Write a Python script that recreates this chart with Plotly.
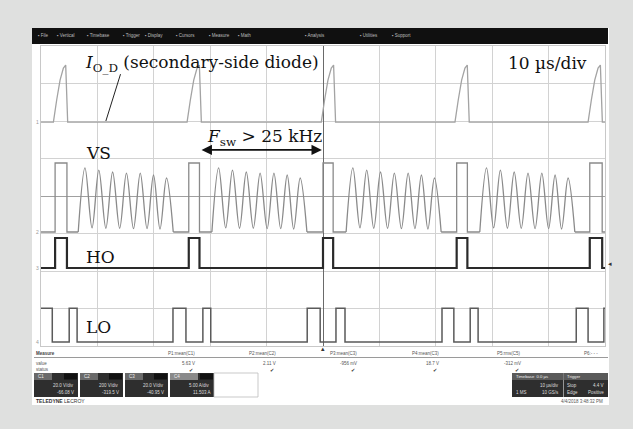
import plotly.graph_objects as go

# ---------------- data (time in µs, level in screen divisions) ----------------
HO_RISE = [-47.5, -23.8, 0.0, 23.7, 47.3]
HO_FALL = [-45.4, -21.9, 1.8, 25.6, 49.5]
HO_HIGH, HO_LOW = -1.12, -1.92

VS_HIGH, VS_LOW = 0.88, -0.96
RING_START, RING_END = 4.1, 20.95          # offsets from HO rise
RING_PEAK_T = [5.3, 7.75, 10.2, 12.65, 15.1, 17.45, 19.75]
RING_PEAK_V = [0.75, 0.69, 0.64, 0.61, 0.61, 0.56, 0.48]
RING_TROUGH_T = [6.55, 9.0, 11.45, 13.9, 16.3, 18.6]
RING_TROUGH_V = [-0.85, -0.86, -0.86, -0.87, -0.87, -0.88]

LO_ON = [-50.0, -45.0, -26.6, -21.3, -2.8, 2.3, 21.1, 26.1, 44.9, 49.8]
LO_OFF = [-48.0, -43.6, -24.3, -19.9, -0.5, 3.9, 23.2, 27.5, 47.0, 50.0]
LO_HIGH, LO_LOW = -2.99, -3.89

IOD_BASE = 1.97
IOD_T = [-0.3, 0.28, 0.88, 1.47, 1.88, 2.23]     # offsets from HO rise
IOD_V = [1.97, 2.56, 3.09, 3.41, 3.49, 1.97]

MEAS_HEAD = ["P1:mean(C1)", "P2:mean(C2)", "P3:mean(C3)", "P4:mean(C3)", "P5:rms(C5)", "P6:- - -"]
MEAS_VAL = ["5.63 V", "2.11 V", "-956 mV", "18.7 V", "-312 mV", ""]
CH_NAMES = ["C1", "C2", "C3", "C4"]
CH_SCALE = ["20.0 V/div", "200 V/div", "20.0 V/div", "5.00 A/div"]
CH_OFFS = ["-66.08 V", "-319.5 V", "-40.95 V", "11.503 A"]
MENU = ["File", "Vertical", "Timebase", "Trigger", "Display", "Cursors",
        "Measure", "Math", "Analysis", "Utilities", "Support"]

# ---------------- layout helpers ----------------
W, H = 633, 429
PL, PR, PT, PB = 41, 605, 46, 346


def pap(px, py):
    return (px - PL) / (PR - PL), (PB - py) / (PB - PT)


# ---------------- build traces ----------------
def ho_trace():
    xs, ys = [-50], [HO_LOW]
    for r, f in zip(HO_RISE, HO_FALL):
        xs += [r, r, f, f]
        ys += [HO_LOW, HO_HIGH, HO_HIGH, HO_LOW]
    xs.append(50); ys.append(HO_LOW)
    return xs, ys


def lo_trace():
    xs, ys = [], []
    for on, off in zip(LO_ON, LO_OFF):
        if on <= -50:
            xs += [-50]; ys += [LO_HIGH]
        else:
            xs += [on, on]; ys += [LO_LOW, LO_HIGH]
        if off >= 50:
            xs += [50]; ys += [LO_HIGH]
        else:
            xs += [off, off]; ys += [LO_HIGH, LO_LOW]
    return xs, ys


def vs_edges():
    xs, ys = [-50], [VS_LOW]
    for r, f in zip(HO_RISE, HO_FALL):
        xs += [r, r, f, f]
        ys += [VS_LOW, VS_HIGH, VS_HIGH, VS_LOW]
        if r + RING_START < 50:
            xs += [r + RING_START, None, r + RING_END]
            ys += [VS_LOW, None, VS_LOW]
        else:
            xs += [50]; ys += [VS_LOW]
    return xs, ys


def vs_ring():
    xs, ys = [], []
    for r in HO_RISE:
        if r + RING_START >= 50:
            continue
        xs.append(r + RING_START); ys.append(VS_LOW)
        for k in range(len(RING_PEAK_T)):
            xs.append(r + RING_PEAK_T[k]); ys.append(RING_PEAK_V[k])
            if k < len(RING_TROUGH_T):
                xs.append(r + RING_TROUGH_T[k]); ys.append(RING_TROUGH_V[k])
        xs += [r + RING_END, None]; ys += [VS_LOW, None]
    return xs, ys


def iod_trace():
    xs, ys = [-50], [IOD_BASE]
    for r in HO_RISE:
        for t, v in zip(IOD_T, IOD_V):
            xs.append(r + t); ys.append(v)
    xs.append(50); ys.append(IOD_BASE)
    return xs, ys


fig = go.Figure()
x, y = iod_trace()
fig.add_trace(go.Scatter(x=x, y=y, mode="lines", line=dict(color="#a3a3a3", width=1.3), hoverinfo="skip"))
x, y = vs_edges()
fig.add_trace(go.Scatter(x=x, y=y, mode="lines", line=dict(color="#8a8a8a", width=1.3), hoverinfo="skip"))
x, y = vs_ring()
fig.add_trace(go.Scatter(x=x, y=y, mode="lines", line=dict(color="#8a8a8a", width=1.3, shape="spline", smoothing=1.0), hoverinfo="skip"))
x, y = ho_trace()
fig.add_trace(go.Scatter(x=x, y=y, mode="lines", line=dict(color="#2a2a2a", width=2.2), hoverinfo="skip"))
x, y = lo_trace()
fig.add_trace(go.Scatter(x=x, y=y, mode="lines", line=dict(color="#5a5a5a", width=1.5), hoverinfo="skip"))

shapes = []
ann = []


def rect(x0, y0, x1, y1, fill, line=None, layer="below"):
    a0, b0 = pap(x0, y0)
    a1, b1 = pap(x1, y1)
    shapes.append(dict(type="rect", xref="paper", yref="paper", x0=a0, y0=b0, x1=a1, y1=b1,
                       fillcolor=fill, line=dict(width=0 if line is None else 0.8, color=line or fill),
                       layer=layer))


def text(px, py, s, size=5, color="#555", anchor="left", family="Liberation Sans", vanchor="middle"):
    a, b = pap(px, py)
    ann.append(dict(xref="paper", yref="paper", x=a, y=b, text=s, showarrow=False,
                    xanchor=anchor, yanchor=vanchor, font=dict(size=size, color=color, family=family)))


# screen background and toolbar
rect(32, 28, 609, 405, "white")
rect(32, 28, 608, 44, "#101010", layer="above")
menu_x = [36, 55, 85, 121, 143, 174, 207, 236, 303, 358, 390]
for mx, m in zip(menu_x, MENU):
    text(mx, 36, "▪ " + m, size=4.5, color="#bdbdbd")

# measure table
shapes.append(dict(type="line", xref="paper", yref="paper",
                   x0=pap(34, 0)[0], x1=pap(608, 0)[0], y0=pap(0, 357.5)[1], y1=pap(0, 357.5)[1],
                   line=dict(color="#9a9a9a", width=1)))
text(34, 353, "<b>Measure</b>", size=4.5, color="#444")
text(34, 363, "value", size=4.5, color="#555")
text(34, 369.5, "status", size=4.5, color="#555")
col_r = [197, 278, 359, 441, 523, 600]
for cx, hd, vl in zip(col_r, MEAS_HEAD, MEAS_VAL):
    text(cx, 353, hd, size=4.5, color="#555", anchor="right")
    if vl:
        text(cx, 363, vl, size=4.5, color="#555", anchor="right")
        text(cx - 2, 369.5, "✔", size=5, color="#333", anchor="right")

# channel boxes
box_x = [(34, 78), (80, 123), (125, 168), (170, 214)]
for i, (bx0, bx1) in enumerate(box_x):
    rect(bx0, 373, bx1, 397, "#2e2e2e", layer="above")
    rect(bx0, 373, bx0 + (28 if i == 3 else 18), 380, "#8a8a8a" if i == 3 else "#6a6a6a", layer="above")
    rect(bx1 - 14, 373.5, bx1 - 1, 379.5, "#111", layer="above")
    text(bx0 + 2, 376.5, CH_NAMES[i], size=4.5, color="#eee")
    text(bx1 - 2, 385.5, CH_SCALE[i], size=4.5, color="#ddd", anchor="right")
    text(bx1 - 2, 392.5, CH_OFFS[i], size=4.5, color="#ddd", anchor="right")
rect(214, 373, 258, 397, "white", line="#bbbbbb", layer="above")

# timebase / trigger boxes
rect(512, 373, 563, 397, "#2e2e2e", layer="above")
rect(563.5, 373, 608, 397, "#2e2e2e", layer="above")
rect(512, 373, 563, 380, "#5a5a5a", layer="above")
rect(563.5, 373, 608, 380, "#5a5a5a", layer="above")
text(514, 376.5, "Timebase  0.0 µs", size=4.2, color="#eee")
text(565, 376.5, "Trigger", size=4.2, color="#eee")
text(561, 385.5, "10 µs/div", size=4.5, color="#ddd", anchor="right")
text(514, 392.5, "1 MS", size=4.5, color="#ddd")
text(561, 392.5, "10 GS/s", size=4.5, color="#ddd", anchor="right")
text(565, 385.5, "Stop", size=4.5, color="#ddd")
text(606, 385.5, "4.4 V", size=4.5, color="#ddd", anchor="right")
text(565, 392.5, "Edge", size=4.5, color="#ddd")
text(606, 392.5, "Positive", size=4.5, color="#ddd", anchor="right")
text(34, 401, "<b>TELEDYNE</b> LECROY", size=5, color="#333")
text(605, 401.5, "4/4/2018 3:48:32 PM", size=4.5, color="#555", anchor="right")

# channel ground markers and trigger markers
for gy, lab in [(122, "1"), (232, "2"), (268, "3"), (342, "4")]:
    text(34, gy, lab, size=5, color="#9a9a9a")
text(606, 263, "◂", size=7, color="#333")
text(323, 348, "▴", size=7, color="#333", anchor="center")

# main labels (serif)
SERIF = "DejaVu Serif"
ann.append(dict(x=-42.5, y=3.53, xref="x", yref="y", xanchor="left", yanchor="middle", showarrow=False,
                text="<i>I</i><sub>O_D</sub> (secondary-side diode)", font=dict(family=SERIF, size=17, color="#111")))
ann.append(dict(x=32.5, y=3.55, xref="x", yref="y", xanchor="left", yanchor="middle", showarrow=False,
                text="10 µs/div", font=dict(family=SERIF, size=17, color="#111")))
ann.append(dict(x=-20.9, y=1.57, xref="x", yref="y", xanchor="left", yanchor="middle", showarrow=False,
                text="<i>F</i><sub>sw</sub> > 25 kHz", font=dict(family=SERIF, size=17, color="#111")))
ann.append(dict(x=-42.3, y=1.16, xref="x", yref="y", xanchor="left", yanchor="middle", showarrow=False,
                text="VS", font=dict(family=SERIF, size=17, color="#111")))
ann.append(dict(x=-42.3, y=-1.63, xref="x", yref="y", xanchor="left", yanchor="middle", showarrow=False,
                text="HO", font=dict(family=SERIF, size=17, color="#111")))
ann.append(dict(x=-42.3, y=-3.50, xref="x", yref="y", xanchor="left", yanchor="middle", showarrow=False,
                text="LO", font=dict(family=SERIF, size=17, color="#111")))
# double arrow
ann.append(dict(x=-0.2, y=1.23, ax=-21.8, ay=1.23, xref="x", yref="y", axref="x", ayref="y",
                text="", showarrow=True, arrowhead=2, startarrowhead=2, arrowside="end+start",
                arrowsize=1.3, startarrowsize=1.3, arrowwidth=1.6, arrowcolor="#111"))
# leader line
shapes.append(dict(type="line", xref="x", yref="y", x0=-35.9, y0=3.25, x1=-38.5, y1=2.0,
                   line=dict(color="#222", width=1)))

fig.update_layout(
    width=W, height=H,
    margin=dict(l=PL, r=W - PR, t=PT, b=H - PB),
    paper_bgcolor="#dfe0df", plot_bgcolor="white",
    showlegend=False,
    shapes=shapes, annotations=ann,
    xaxis=dict(range=[-50, 50], dtick=10, tick0=0, showticklabels=False, ticks="",
               showgrid=True, gridcolor="#d2d2d2", gridwidth=1,
               zeroline=True, zerolinecolor="#6a6a6a", zerolinewidth=1,
               showline=True, linecolor="#c8c8c8", mirror=True, fixedrange=True),
    yaxis=dict(range=[-4, 4], dtick=1, tick0=0, showticklabels=False, ticks="",
               showgrid=True, gridcolor="#d2d2d2", gridwidth=1,
               zeroline=True, zerolinecolor="#a0a0a0", zerolinewidth=1,
               showline=True, linecolor="#c8c8c8", mirror=True, fixedrange=True),
)

fig.write_html("out.html", config={"displayModeBar": False},
               post_script="document.body.style.margin='0px';document.body.style.overflow='hidden';")
